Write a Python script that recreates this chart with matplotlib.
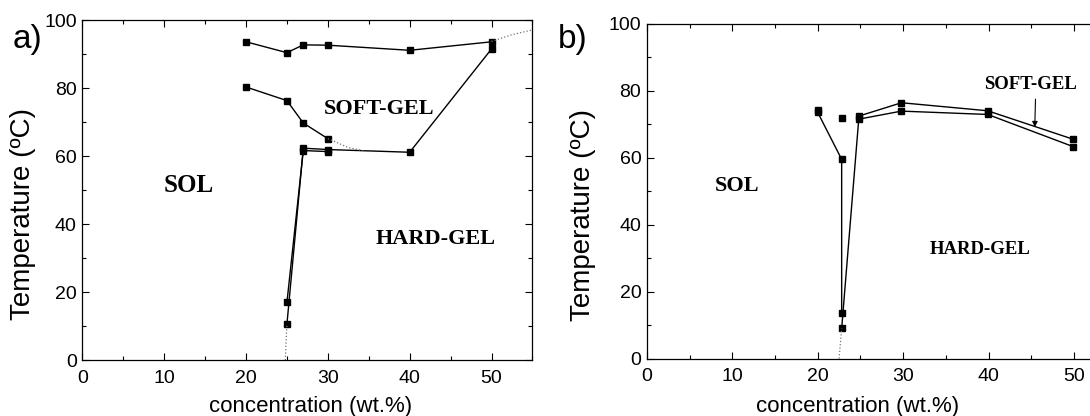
import matplotlib.pyplot as plt
from matplotlib.ticker import MultipleLocator

# panel a) -- boundaries
a_upper_x = [20, 25, 27, 30, 40, 50]
a_upper_y = [93.7, 90.5, 92.8, 92.7, 91.2, 93.7]
a_lower_x = [20, 25, 27, 30]
a_lower_y = [80.4, 76.4, 69.8, 65.2]
a_hard1_x = [25, 27, 30, 40, 50]
a_hard1_y = [10.6, 62.4, 62.0, 61.2, 91.6]
a_hard2_x = [25, 27, 30]
a_hard2_y = [17.0, 61.7, 61.4]
a_dot_top_x = [50, 52.5, 55]
a_dot_top_y = [93.8, 95.8, 97.2]
a_dot_mid_x = [30, 32.5, 35]
a_dot_mid_y = [65.2, 62.6, 61.3]
a_dot_bot_x = [24.8, 25]
a_dot_bot_y = [0, 10.6]

# panel b)
b_left_x = [20, 22.8, 22.8]
b_left_y = [73.5, 59.5, 13.5]
b_low_x = [22.8, 24.8, 29.8, 39.9, 49.9]
b_low_y = [9.0, 71.5, 73.9, 72.9, 63.3]
b_up_x = [24.8, 29.8, 39.9, 49.9]
b_up_y = [72.4, 76.4, 74.0, 65.5]
b_single_x = [20, 22.8]
b_single_y = [74.2, 71.8]
b_dot_x = [22.5, 22.8]
b_dot_y = [0, 9.0]

serif = 'Liberation Serif'
sans = 'Liberation Sans'
plt.rcParams['font.family'] = sans

fig = plt.figure(figsize=(10.9, 4.16), dpi=100)
ax1 = fig.add_axes([0.0755, 0.134, 0.413, 0.817])
ax2 = fig.add_axes([0.5935, 0.138, 0.431, 0.805])

mk = dict(color='black', marker='s', markersize=4.5, linewidth=1.0)
dot = dict(color='0.45', linestyle=':', linewidth=0.9)

ax1.plot(a_upper_x, a_upper_y, **mk)
ax1.plot(a_lower_x, a_lower_y, **mk)
ax1.plot(a_hard1_x, a_hard1_y, **mk)
ax1.plot(a_hard2_x, a_hard2_y, **mk)
ax1.plot(a_dot_top_x, a_dot_top_y, **dot)
ax1.plot(a_dot_mid_x, a_dot_mid_y, **dot)
ax1.plot(a_dot_bot_x, a_dot_bot_y, **dot)

ax2.plot(b_left_x, b_left_y, **mk)
ax2.plot(b_low_x, b_low_y, **mk)
ax2.plot(b_up_x, b_up_y, **mk)
ax2.plot(b_single_x, b_single_y, color='black', marker='s', markersize=4.5, linestyle='none')
ax2.plot(b_dot_x, b_dot_y, **dot)

bold = dict(family=serif, fontweight='bold', ha='center', va='center')
ax1.text(13.0, 51.4, 'SOL', fontsize=18, **bold)
ax1.text(36.2, 73.9, 'SOFT-GEL', fontsize=16, **bold)
ax1.text(43.2, 35.7, 'HARD-GEL', fontsize=16, **bold)

ax2.text(10.5, 51.6, 'SOL', fontsize=16, **bold)
ax2.text(44.9, 81.7, 'SOFT-GEL', fontsize=13.5, **bold)
ax2.text(39.0, 32.6, 'HARD-GEL', fontsize=13.5, **bold)
ax2.annotate('', xy=(45.4, 68.3), xytext=(45.5, 78.3),
             arrowprops=dict(arrowstyle='-|>', color='black', lw=0.8,
                             mutation_scale=8))

for ax in (ax1, ax2):
    ax.set_xlim(0, 55)
    ax.set_ylim(0, 100)
    ax.xaxis.set_major_locator(MultipleLocator(10))
    ax.xaxis.set_minor_locator(MultipleLocator(5))
    ax.yaxis.set_major_locator(MultipleLocator(20))
    ax.yaxis.set_minor_locator(MultipleLocator(10))
    ax.tick_params(which='both', direction='in', top=True, right=True,
                   labelsize=14, width=0.8)
    ax.tick_params(which='major', length=5)
    ax.tick_params(which='minor', length=3)
    ax.tick_params(axis='x', pad=7)
    ax.tick_params(axis='y', pad=4)
    ax.set_xlabel('concentration (wt.%)', fontsize=16)
    ax.set_ylabel('Temperature (ºC)', fontsize=20)
    for s in ax.spines.values():
        s.set_linewidth(0.9)

ax1.xaxis.set_label_coords(0.507, -0.105)
ax1.yaxis.set_label_coords(-0.102, 0.43)
ax2.xaxis.set_label_coords(0.449, -0.111)
ax2.yaxis.set_label_coords(-0.109, 0.43)

fig.text(0.025, 0.905, 'a)', fontsize=24, ha='center', va='center')
fig.text(0.525, 0.905, 'b)', fontsize=24, ha='center', va='center')

fig.savefig('out.png', dpi=100)
